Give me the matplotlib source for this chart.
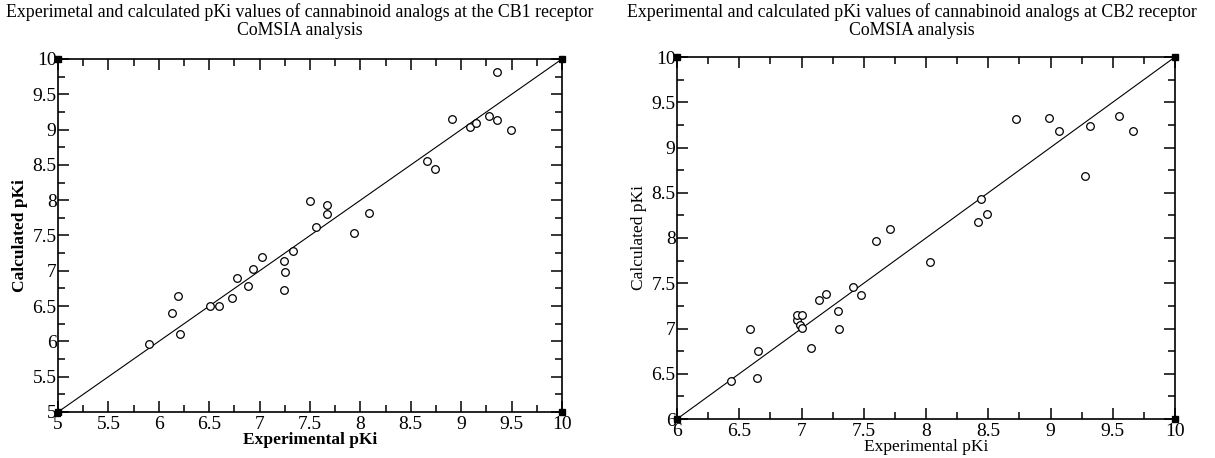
import matplotlib
matplotlib.use("Agg")
import matplotlib.pyplot as plt
from matplotlib.ticker import MultipleLocator

plt.rcParams['font.family'] = ['Liberation Serif', 'DejaVu Serif']

# CB1 data
cb1_exp = [5.90, 6.13, 6.19, 6.21, 6.51, 6.60, 6.73, 6.78, 6.88, 6.93, 7.02, 7.24, 7.25, 7.24, 7.33,
           7.50, 7.56, 7.67, 7.67, 7.94, 8.09, 8.66, 8.74, 8.91, 9.09, 9.15, 9.28, 9.36, 9.36, 9.49]
cb1_calc = [5.97, 6.40, 6.64, 6.11, 6.50, 6.50, 6.61, 6.90, 6.78, 7.02, 7.19, 7.14, 6.98, 6.73, 7.28,
            7.99, 7.62, 7.93, 7.81, 7.54, 7.82, 8.55, 8.44, 9.15, 9.03, 9.10, 9.19, 9.13, 9.82, 8.99]

# CB2 data
cb2_exp = [6.43, 6.59, 6.65, 6.64, 6.96, 6.96, 7.00, 6.99, 7.00, 7.08, 7.14, 7.20, 7.29, 7.30,
           7.41, 7.48, 7.60, 7.71, 8.03, 8.42, 8.44, 8.49, 8.72, 8.99, 9.07, 9.28, 9.32, 9.55, 9.66]
cb2_calc = [6.42, 6.99, 6.75, 6.45, 7.09, 7.15, 7.15, 7.04, 7.01, 6.78, 7.31, 7.38, 7.19, 6.99,
            7.46, 7.37, 7.97, 8.10, 7.74, 8.18, 8.43, 8.26, 9.32, 9.33, 9.18, 8.68, 9.24, 9.35, 9.18]

cb1_lim = [5, 10]
cb2_lim = [6, 10]

titles = ["Experimetal and calculated pKi values of cannabinoid analogs at the CB1 receptor\nCoMSIA analysis",
          "Experimental and calculated pKi values of cannabinoid analogs at CB2 receptor\nCoMSIA analysis"]

fig = plt.figure(figsize=(12.15, 4.58), dpi=100)
ax1 = fig.add_axes([58/1215, 46/458, 504/1215, 353/458])
ax2 = fig.add_axes([677/1215, 39/458, 498/1215, 362/458])

def style(ax, lim, exp, calc, title, bold, title_x):
    ax.plot(lim, lim, color='black', lw=0.8, zorder=2)
    ax.plot(exp, calc, linestyle='none', marker='o', markersize=5.5, markerfacecolor='white',
            markeredgecolor='black', markeredgewidth=0.9, zorder=3)
    ax.plot([lim[0], lim[1], lim[0], lim[1]], [lim[0], lim[1], lim[1], lim[0]], linestyle='none',
            marker='s', markersize=4.5, color='black', clip_on=False, zorder=4)
    ax.set_xlim(lim)
    ax.set_ylim(lim[0], 10)
    ax.xaxis.set_major_locator(MultipleLocator(0.5))
    ax.xaxis.set_minor_locator(MultipleLocator(0.25))
    ax.yaxis.set_major_locator(MultipleLocator(0.5))
    ax.yaxis.set_minor_locator(MultipleLocator(0.25))
    ax.xaxis.set_major_formatter(matplotlib.ticker.FuncFormatter(lambda v, p: f"{v:g}"))
    ax.yaxis.set_major_formatter(matplotlib.ticker.FuncFormatter(lambda v, p: f"{v:g}"))
    ax.tick_params(which='both', direction='in', top=True, right=True, labelsize=14, width=1.1)
    ax.tick_params(axis='x', which='both', pad=3)
    ax.tick_params(axis='y', which='both', pad=1)
    ax.tick_params(which='major', length=8)
    ax.tick_params(which='minor', length=5)
    for s in ax.spines.values():
        s.set_linewidth(1.2)
    w = 'bold' if bold else 'normal'
    ax.set_xlabel("Experimental pKi", fontsize=12.5, fontweight=w, labelpad=-1)
    ax.set_ylabel("Calculated pKi", fontsize=12.5, fontweight=w, labelpad=3)
    fig.text(title_x, 1 - 21/458, title, ha='center', va='center', fontsize=12.8, linespacing=1.05)

style(ax1, cb1_lim, cb1_exp, cb1_calc, titles[0], True, 300/1215)
style(ax2, cb2_lim, cb2_exp, cb2_calc, titles[1], False, 912/1215)

fig.savefig("out.png", dpi=100)
